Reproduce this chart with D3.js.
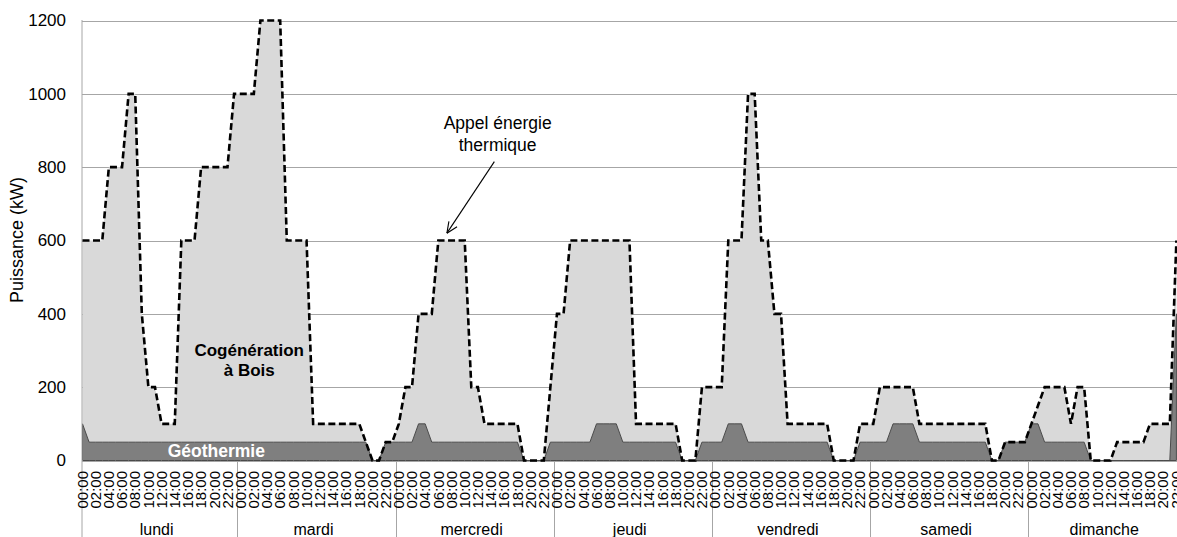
<!DOCTYPE html>
<html><head><meta charset="utf-8">
<script src="https://cdn.jsdelivr.net/npm/d3@7"></script>
<style>body{margin:0;background:#fff}svg{display:block;font-family:"Liberation Sans",Arial,sans-serif}</style>
</head><body>
<svg id="c" width="1177" height="537"></svg>
<script>
const jours = ["lundi","mardi","mercredi","jeudi","vendredi","samedi","dimanche"];
const heuresLabels = ["00:00","02:00","04:00","06:00","08:00","10:00","12:00","14:00","16:00","18:00","20:00","22:00"];
const yTicks = [0,200,400,600,800,1000,1200];

// Appel énergie thermique (kW), one value per hour, from lundi 00:00
const appel = [
 600,600,600,600,800,800,800,1000,1000,400,200,200,100,100,100,600,600,600,800,800,800,800,800,1000,
 1000,1000,1000,1200,1200,1200,1200,600,600,600,600,100,100,100,100,100,100,100,100,50,0,0,50,50,
 100,200,200,400,400,400,600,600,600,600,600,200,200,100,100,100,100,100,100,0,0,0,0,200,
 400,400,600,600,600,600,600,600,600,600,600,600,100,100,100,100,100,100,100,0,0,0,200,200,
 200,200,600,600,600,1000,1000,600,600,400,400,100,100,100,100,100,100,100,0,0,0,0,100,100,
 100,200,200,200,200,200,200,100,100,100,100,100,100,100,100,100,100,100,0,0,50,50,50,50,
 100,150,200,200,200,200,100,200,200,0,0,0,0,50,50,50,50,50,100,100,100,100,600
];
// Géothermie (kW)
const geothermie = [
 100,50,50,50,50,50,50,50,50,50,50,50,50,50,50,50,50,50,50,50,50,50,50,50,
 50,50,50,50,50,50,50,50,50,50,50,50,50,50,50,50,50,50,50,50,0,0,50,50,
 50,50,50,100,100,50,50,50,50,50,50,50,50,50,50,50,50,50,50,0,0,0,0,50,
 50,50,50,50,50,50,100,100,100,100,50,50,50,50,50,50,50,50,50,0,0,0,50,50,
 50,50,100,100,100,50,50,50,50,50,50,50,50,50,50,50,50,50,0,0,0,0,50,50,
 50,50,50,100,100,100,100,50,50,50,50,50,50,50,50,50,50,50,0,0,50,50,50,50,
 100,100,50,50,50,50,50,50,50,0,0,0,0,0,0,0,0,0,0,0,0,0,400
];
const cogeneration = appel.map((v,i)=>v-geothermie[i]);

const svg = d3.select("#c");
const x = d3.scaleLinear().domain([0,166]).range([82.5,1176.4]);
const y = d3.scaleLinear().domain([0,1200]).range([460.5,20.5]);
const idx = d3.range(appel.length);

// gridlines
svg.append("g").selectAll("line").data(yTicks).join("line")
  .attr("x1",82).attr("x2",1177).attr("y1",d=>Math.round(y(d))+0.5).attr("y2",d=>Math.round(y(d))+0.5)
  .attr("stroke","#a6a6a6").attr("stroke-width",1);

// areas
const stack = d3.stack().keys(["geo","cogen"])(idx.map(i=>({geo:geothermie[i],cogen:cogeneration[i],i})));
const area = d3.area().x((d,j)=>x(j)).y0(d=>y(d[0])).y1(d=>y(d[1]));
svg.append("path").datum(stack[1]).attr("d",area).attr("fill","#d9d9d9");
svg.append("path").datum(stack[0]).attr("d",area).attr("fill","#7f7f7f").attr("stroke","#4a4a4a").attr("stroke-width",1).attr("stroke-linejoin","round");

// axes lines
svg.append("line").attr("x1",82).attr("x2",82).attr("y1",20).attr("y2",537).attr("stroke","#a6a6a6");
svg.append("line").attr("x1",82).attr("x2",1177).attr("y1",Math.round(y(0))+0.5).attr("y2",Math.round(y(0))+0.5).attr("stroke","#a6a6a6");
// day separators
svg.append("g").selectAll("line").data(d3.range(1,7)).join("line")
  .attr("x1",k=>Math.round(x(24*k-0.5))+0.5).attr("x2",k=>Math.round(x(24*k-0.5))+0.5)
  .attr("y1",Math.round(y(0))).attr("y2",537).attr("stroke","#a6a6a6");

// demand line
svg.append("path").datum(appel).attr("d",d3.line().x((d,i)=>x(i)).y(d=>y(d)))
  .attr("fill","none").attr("stroke","#000").attr("stroke-width",2.6).attr("stroke-dasharray","7,3.5");

// y tick labels
svg.append("g").selectAll("text").data(yTicks).join("text")
  .attr("x",66).attr("y",d=>y(d)).attr("dy","0.35em").attr("text-anchor","end")
  .attr("font-size",17).attr("fill","#000").text(d=>d);
svg.append("text").attr("transform","translate(23,240) rotate(-90)").attr("text-anchor","middle")
  .attr("font-size",18).text("Puissance (kW)");

// hour labels
const hourIdx = idx.filter(i=>i%2===0);
svg.append("g").selectAll("text").data(hourIdx).join("text")
  .attr("transform",i=>`translate(${x(i)},471) rotate(-90)`).attr("text-anchor","end").attr("dy","0.35em")
  .attr("font-size",15).attr("fill","#000").text(i=>heuresLabels[(i%24)/2]);

// day labels
svg.append("g").selectAll("text").data(jours).join("text")
  .attr("x",(d,k)=>(Math.max(82,x(24*k-0.5))+x(24*k+23.5))/2-3).attr("y",534.5).attr("text-anchor","middle")
  .attr("font-size",16).text(d=>d);

// annotations
svg.append("text").attr("x",x(63)).attr("y",y(905)).attr("text-anchor","middle").attr("font-size",17.5)
  .selectAll("tspan").data(["Appel énergie","thermique"]).join("tspan")
  .attr("x",x(63)).attr("dy",(d,i)=>i?"1.3em":"0").text(d=>d);
const tip=[x(55.3),y(620)], st=[x(62.5),y(815)];
svg.append("line").attr("x1",st[0]).attr("y1",st[1]).attr("x2",tip[0]).attr("y2",tip[1]).attr("stroke","#000").attr("stroke-width",1.1);
const ang=Math.atan2(st[1]-tip[1],st[0]-tip[0]);
[0.42,-0.42].forEach(a=>svg.append("line").attr("x1",tip[0]).attr("y1",tip[1])
  .attr("x2",tip[0]+12*Math.cos(ang+a)).attr("y2",tip[1]+12*Math.sin(ang+a)).attr("stroke","#000").attr("stroke-width",1.1));

svg.append("text").attr("x",x(25.3)).attr("y",y(285)).attr("text-anchor","middle").attr("font-size",17).attr("font-weight","bold")
  .selectAll("tspan").data(["Cogénération","à Bois"]).join("tspan")
  .attr("x",x(25.3)).attr("dy",(d,i)=>i?"1.2em":"0").text(d=>d);
svg.append("text").attr("x",x(20.3)).attr("y",y(10)).attr("text-anchor","middle").attr("font-size",17.5).attr("font-weight","bold")
  .attr("fill","#fff").text("Géothermie");
</script>
</body></html>
